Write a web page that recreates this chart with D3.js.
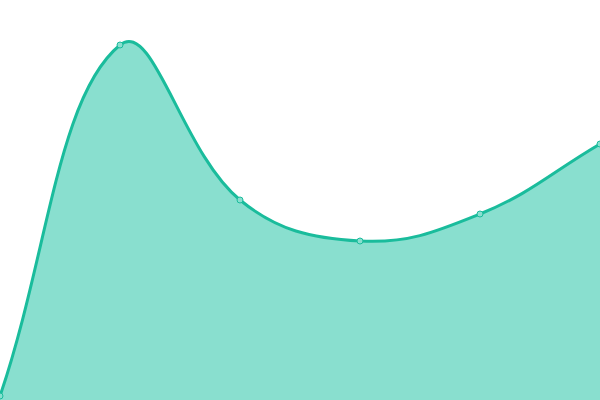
<!DOCTYPE html>
<html><head><meta charset="utf-8">
<script src="https://cdn.jsdelivr.net/npm/d3@7"></script>
<style>html,body{margin:0;padding:0;background:#fff;}svg{display:block;}</style>
</head><body>
<svg id="chart" width="600" height="400"></svg>
<script>
const categories = [0, 1, 2, 3, 4, 5];
const values = [1, 88.75, 50, 39.75, 46.5, 64];

const svg = d3.select("#chart");
const W = 600, H = 400;
const x = d3.scaleLinear().domain([0, categories.length - 1]).range([0, W]);
const y = d3.scaleLinear().domain([0, 100]).range([H, 0]);
const data = categories.map((c, i) => ({c, v: values[i]}));

// Tension-based spline curve (distance-weighted control points)
function SplineCurve(context, t) { this._context = context; this._t = t; }
SplineCurve.prototype = {
  areaStart() { this._line = 0; },
  areaEnd() { this._line = NaN; },
  lineStart() { this._pts = []; },
  point(px, py) { this._pts.push([+px, +py]); },
  lineEnd() {
    const p = this._pts, n = p.length, c = this._context, t = this._t;
    if (n) {
      if (this._line) c.lineTo(p[0][0], p[0][1]); else c.moveTo(p[0][0], p[0][1]);
      const cps = p.map((cur, i) => {
        const prev = p[Math.max(i - 1, 0)], next = p[Math.min(i + 1, n - 1)];
        const d01 = Math.hypot(cur[0] - prev[0], cur[1] - prev[1]);
        const d12 = Math.hypot(next[0] - cur[0], next[1] - cur[1]);
        let s01 = d01 / (d01 + d12), s12 = d12 / (d01 + d12);
        if (isNaN(s01)) s01 = 0; if (isNaN(s12)) s12 = 0;
        const fa = t * s01, fb = t * s12;
        return {
          prev: [cur[0] - fa * (next[0] - prev[0]), cur[1] - fa * (next[1] - prev[1])],
          next: [cur[0] + fb * (next[0] - prev[0]), cur[1] + fb * (next[1] - prev[1])]
        };
      });
      for (let i = 0; i < n - 1; i++) {
        c.bezierCurveTo(cps[i].next[0], cps[i].next[1], cps[i + 1].prev[0], cps[i + 1].prev[1], p[i + 1][0], p[i + 1][1]);
      }
    }
    if (this._line || (this._line !== 0 && n === 1)) c.closePath();
    this._line = 1 - this._line;
  }
};
const curve = ctx => new SplineCurve(ctx, 0.4);

const area = d3.area().x(d => x(d.c)).y0(H).y1(d => y(d.v)).curve(curve);
const line = d3.line().x(d => x(d.c)).y(d => y(d.v)).curve(curve);

svg.append("path").datum(data).attr("d", area).attr("fill", "#89dfcf");
svg.append("path").datum(data).attr("d", line).attr("fill", "none").attr("stroke", "#1abc9c").attr("stroke-width", 3);
svg.selectAll("circle").data(data).join("circle")
  .attr("cx", d => x(d.c)).attr("cy", d => y(d.v)).attr("r", 3)
  .attr("fill", "#89dfcf").attr("stroke", "#1abc9c").attr("stroke-width", 1);
</script>
</body></html>
